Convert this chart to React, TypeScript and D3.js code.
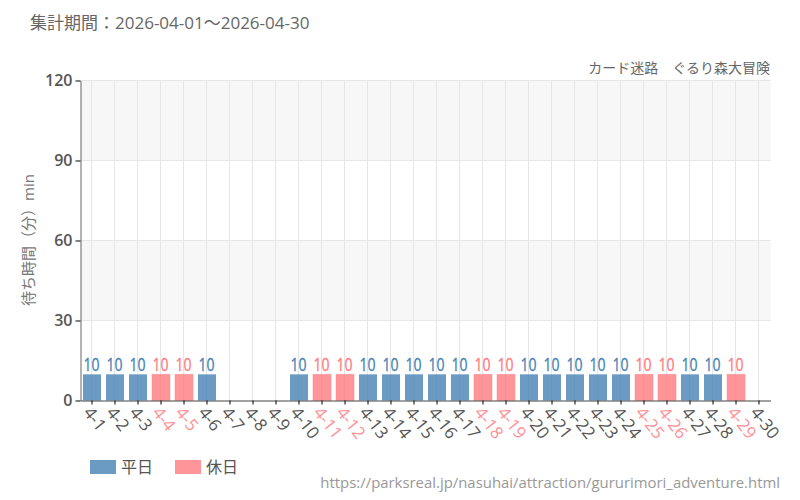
import { useEffect, useRef } from "react";
import * as d3 from "d3";

const days = Array.from({ length: 30 }, (_, i) => `4-${i + 1}`);
const waits: (number | null)[] = [
  10, 10, 10, 10, 10, 10, null, null, null, 10, 10, 10, 10, 10, 10, 10, 10, 10, 10, 10, 10, 10, 10,
  10, 10, 10, 10, 10, 10, null,
];
const holidays = ["4-4", "4-5", "4-11", "4-12", "4-18", "4-19", "4-25", "4-26", "4-29"];
const yTicks = [0, 30, 60, 90, 120];
const stripes = [
  [30, 60],
  [90, 120],
];
const legendItems = [
  { label: "平日", color: "#4682b4" },
  { label: "休日", color: "#ff7a80" },
];

const FONT = "'Open Sans', 'Noto Sans CJK JP', sans-serif";
const BLUE = "#4682b4";
const RED = "#ff7a80";

export default function App() {
  const svgRef = useRef<SVGSVGElement>(null);

  useEffect(() => {
    if (!svgRef.current) return;
    const svg = d3.select(svgRef.current);
    svg.selectAll("*").remove();
    svg.style("font-family", FONT);

    const x = d3.scaleBand().domain(days).range([80.5, 770.5]);
    const y = d3.scaleLinear().domain([0, 120]).range([400.5, 80.5]);
    const isHoliday = (d: string) => holidays.includes(d);
    const mid = (d: string) => Math.floor(x(d)! + x.bandwidth() / 2) - 0.5;

    // background stripes
    svg
      .append("g")
      .selectAll("rect")
      .data(stripes)
      .join("rect")
      .attr("x", 80.5)
      .attr("width", 690)
      .attr("y", (d) => y(d[1]))
      .attr("height", (d) => y(d[0]) - y(d[1]))
      .attr("fill", "#f7f7f7");

    // grid
    const grid = svg.append("g").attr("stroke", "#e6e6e6").attr("stroke-width", 1);
    grid
      .selectAll("line.h")
      .data(yTicks.slice(1))
      .join("line")
      .attr("class", "h")
      .attr("x1", 80.5)
      .attr("x2", 770.5)
      .attr("y1", (d) => y(d))
      .attr("y2", (d) => y(d));
    grid
      .selectAll("line.v")
      .data(days)
      .join("line")
      .attr("class", "v")
      .attr("x1", (d) => mid(d))
      .attr("x2", (d) => mid(d))
      .attr("y1", 80.5)
      .attr("y2", 400.5);

    const rows = days.map((d, i) => ({ day: d, value: waits[i] })).filter((r) => r.value !== null);

    // bars
    svg
      .append("g")
      .selectAll("rect")
      .data(rows)
      .join("rect")
      .attr("x", (d) => x(d.day)! + 2.5)
      .attr("width", 18)
      .attr("y", (d) => y(d.value as number) + 0.5)
      .attr("height", (d) => y(0) - y(d.value as number) - 0.5)
      .attr("fill", (d) => (isHoliday(d.day) ? RED : BLUE))
      .attr("fill-opacity", 0.8)
      .attr("stroke", (d) => (isHoliday(d.day) ? RED : "none"))
      .attr("stroke-opacity", 0.4);

    // value labels
    svg
      .append("g")
      .selectAll("text")
      .data(rows)
      .join("text")
      .attr(
        "transform",
        (d) => `translate(${mid(d.day)},${y(d.value as number) - 3}) scale(0.78,1)`
      )
      .attr("text-anchor", "middle")
      .attr("font-size", 18)
      .attr("fill", (d) => (isHoliday(d.day) ? RED : BLUE))
      .attr("stroke", (d) => (isHoliday(d.day) ? RED : BLUE))
      .attr("stroke-width", 0.3)
      .text((d) => String(d.value));

    // y axis
    const yAxis = svg
      .append("g")
      .attr("transform", "translate(80.5,0)")
      .call(d3.axisLeft(y).tickValues(yTicks).tickSize(5).tickSizeOuter(0).tickPadding(3));
    yAxis.select(".domain").attr("stroke", "#666");
    yAxis.selectAll(".tick line").attr("stroke", "#000");
    yAxis
      .selectAll("text")
      .attr("font-family", FONT)
      .attr("font-size", 16)
      .attr("font-weight", 600)
      .attr("fill", "#555");

    // x axis
    const xAxis = svg
      .append("g")
      .attr("transform", "translate(0,400.5)")
      .call(d3.axisBottom(x).tickSize(4).tickSizeOuter(0));
    xAxis.select(".domain").attr("stroke", "#444");
    xAxis.selectAll(".tick line").attr("stroke", "#000");
    xAxis
      .selectAll<SVGTextElement, string>("text")
      .attr("font-family", FONT)
      .attr("font-size", 17)
      .attr("fill", (d) => (isHoliday(d) ? "#ff9296" : "#555"))
      .attr("text-anchor", "start")
      .attr("transform", "translate(-1,2) rotate(52)")
      .attr("x", 3)
      .attr("y", 7)
      .attr("dy", "0.35em");

    // titles
    svg
      .append("text")
      .attr("x", 30)
      .attr("y", 29)
      .attr("font-size", 17)
      .attr("fill", "#666")
      .text("集計期間：2026-04-01～2026-04-30");
    svg
      .append("text")
      .attr("x", 770)
      .attr("y", 73)
      .attr("text-anchor", "end")
      .attr("font-size", 14)
      .attr("fill", "#666")
      .text("カード迷路　ぐるり森大冒険");
    svg
      .append("text")
      .attr("transform", "translate(34,240) rotate(-90)")
      .attr("text-anchor", "middle")
      .attr("font-size", 15)
      .attr("fill", "#777")
      .text("待ち時間（分）min");
    svg
      .append("text")
      .attr("x", 780)
      .attr("y", 488)
      .attr("text-anchor", "end")
      .attr("font-size", 14.9)
      .attr("fill", "#999")
      .text("https://parksreal.jp/nasuhai/attraction/gururimori_adventure.html");

    // legend
    const legend = svg
      .append("g")
      .selectAll("g")
      .data(legendItems)
      .join("g")
      .attr("transform", (_, i) => `translate(${90 + i * 85},460)`);
    legend
      .append("rect")
      .attr("width", 26)
      .attr("height", 14)
      .attr("fill", (d) => d.color)
      .attr("fill-opacity", 0.8);
    legend
      .append("text")
      .attr("x", 31)
      .attr("y", 13)
      .attr("font-size", 16)
      .attr("fill", "#555")
      .text((d) => d.label);
  }, []);

  return (
    <svg
      ref={svgRef}
      width={800}
      height={500}
      style={{ position: "absolute", left: 0, top: 0, background: "#fff" }}
    />
  );
}
